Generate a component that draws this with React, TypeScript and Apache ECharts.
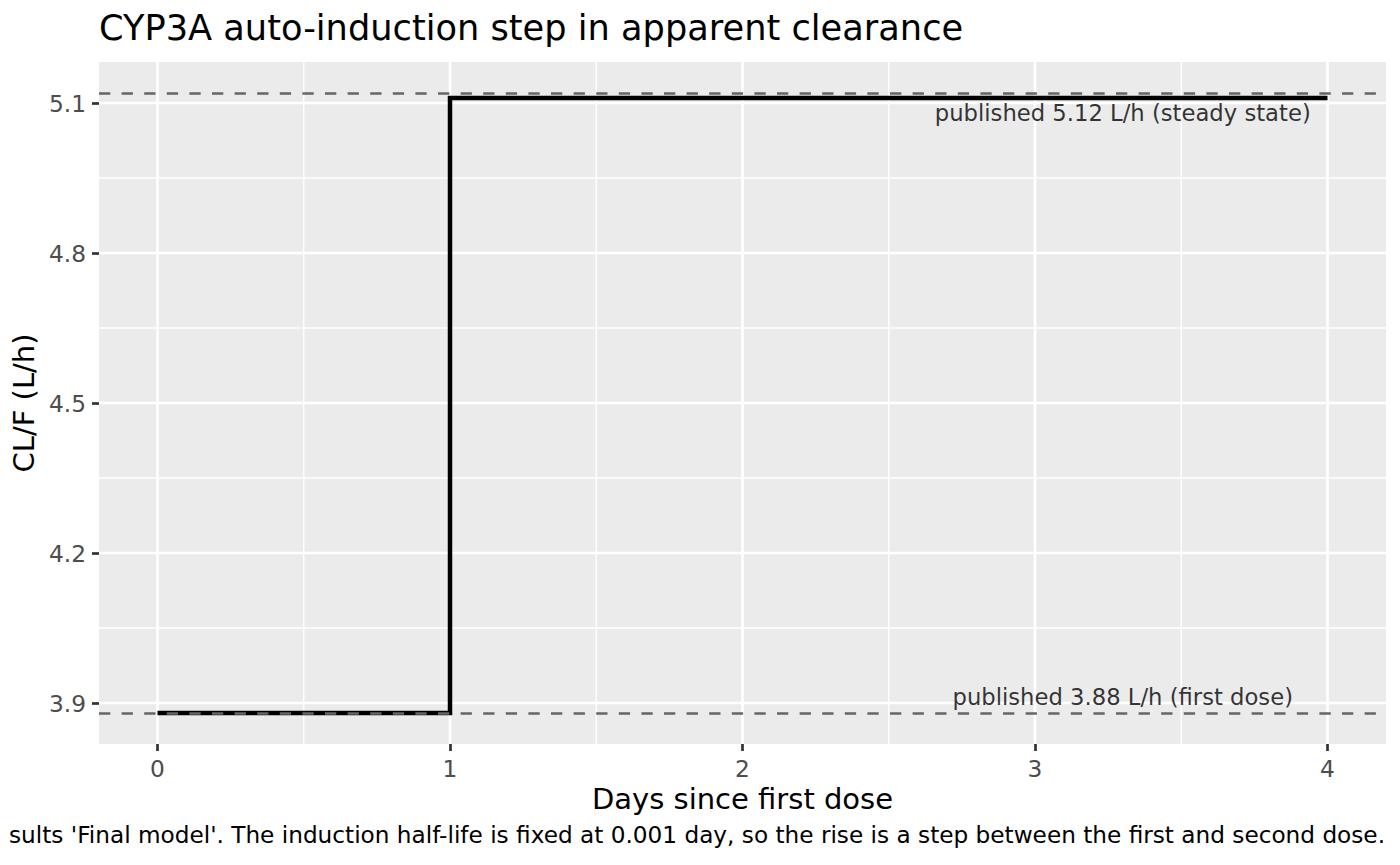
import React, { useEffect, useRef } from "react";
import * as echarts from "echarts";

const FONT = "DejaVu Sans";

const titleText = "CYP3A auto-induction step in apparent clearance";
const captionText =
  "sults 'Final model'. The induction half-life is fixed at 0.001 day, so the rise is a step between the first and second dose.";
const xTitle = "Days since first dose";
const yTitle = "CL/F (L/h)";

// step data
const days = [0, 1, 2, 3, 4];
const clearance = [3.88, 5.11, 5.11, 5.11, 5.11];

// published reference values
const refValues = [5.12, 3.88];
const refLabels = ["published 5.12 L/h (steady state)", "published 3.88 L/h (first dose)"];
const refLabelX = [3.3, 3.3];

// axes
const xRange = [-0.2, 4.2];
const yRange = [3.818, 5.182];
const xMajor = [0, 1, 2, 3, 4];
const xMinor = [0.5, 1.5, 2.5, 3.5];
const yMajor = [3.9, 4.2, 4.5, 4.8, 5.1];
const yMinor = [4.05, 4.35, 4.65, 4.95];

export default function App() {
  const ref = useRef<HTMLDivElement>(null);

  useEffect(() => {
    if (!ref.current) return;
    const chart = echarts.init(ref.current, null, { renderer: "svg" });

    // grid lines: [x, y, orientation(0 vertical,1 horizontal), major(1)/minor(0)]
    const gridData: number[][] = [
      ...xMinor.map((v) => [v, yRange[0], 0, 0]),
      ...yMinor.map((v) => [xRange[0], v, 1, 0]),
      ...xMajor.map((v) => [v, yRange[0], 0, 1]),
      ...yMajor.map((v) => [xRange[0], v, 1, 1]),
    ];

    const option: any = {
      animation: false,
      title: [
        {
          text: titleText,
          left: 99,
          top: 10,
          padding: 0,
          textStyle: { fontFamily: FONT, fontSize: 35.2, fontWeight: "normal", color: "#000" },
        },
        {
          text: captionText,
          right: 15,
          top: 823,
          padding: 0,
          textStyle: { fontFamily: FONT, fontSize: 23.2, fontWeight: "normal", color: "#000" },
        },
      ],
      grid: {
        left: 99,
        right: 14,
        top: 62,
        bottom: 121,
        show: true,
        backgroundColor: "#EBEBEB",
        borderWidth: 0,
        containLabel: false,
        outerBoundsMode: "none",
      },
      xAxis: {
        type: "value",
        min: xRange[0],
        max: xRange[1],
        splitLine: { show: false },
        axisLine: { show: false, onZero: false },
        axisTick: {
          show: true,
          customValues: xMajor,
          length: 7,
          lineStyle: { color: "#333333", width: 2.7 },
        },
        axisLabel: {
          customValues: xMajor,
          margin: 13,
          fontFamily: FONT,
          fontSize: 23.3,
          color: "#4D4D4D",
          formatter: (v: number) => String(v),
        },
        name: xTitle,
        nameLocation: "middle",
        nameGap: 37,
        nameTextStyle: { fontFamily: FONT, fontSize: 29, color: "#000" },
      },
      yAxis: {
        type: "value",
        min: yRange[0],
        max: yRange[1],
        splitLine: { show: false },
        axisLine: { show: false, onZero: false },
        axisTick: {
          show: true,
          customValues: yMajor,
          length: 7,
          lineStyle: { color: "#333333", width: 2.7 },
        },
        axisLabel: {
          customValues: yMajor,
          margin: 13,
          fontFamily: FONT,
          fontSize: 23.3,
          color: "#4D4D4D",
          formatter: (v: number) => v.toFixed(1),
        },
        name: yTitle,
        nameLocation: "middle",
        nameGap: 57,
        nameRotate: 90,
        nameTextStyle: { fontFamily: FONT, fontSize: 29, color: "#000" },
      },
      series: [
        {
          type: "custom",
          silent: true,
          z: 1,
          clip: false,
          data: gridData,
          renderItem: (params: any, api: any) => {
            const cs = params.coordSys;
            const orient = api.value(2);
            const major = api.value(3);
            const lw = major ? 2.7 : 1.4;
            if (orient === 0) {
              const p = api.coord([api.value(0), yRange[0]]);
              return {
                type: "line",
                shape: { x1: p[0], y1: cs.y, x2: p[0], y2: cs.y + cs.height },
                style: { stroke: "#FFFFFF", lineWidth: lw },
              };
            }
            const p = api.coord([xRange[0], api.value(1)]);
            return {
              type: "line",
              shape: { x1: cs.x, y1: p[1], x2: cs.x + cs.width, y2: p[1] },
              style: { stroke: "#FFFFFF", lineWidth: lw },
            };
          },
        },
        {
          type: "line",
          step: "end",
          z: 3,
          symbol: "none",
          silent: true,
          data: days.map((d, i) => [d, clearance[i]]),
          lineStyle: { color: "#000000", width: 4.5, cap: "butt", join: "miter" },
          emphasis: { disabled: true },
          markLine: {
            silent: true,
            z: 5,
            symbol: ["none", "none"],
            label: { show: false },
            emphasis: { disabled: true },
            lineStyle: { color: "#666666", width: 2.7, type: [11.3, 11.3] },
            data: refValues.map((v) => ({ yAxis: v })),
          },
        },
        {
          type: "scatter",
          z: 6,
          silent: true,
          symbolSize: 0.1,
          itemStyle: { color: "rgba(0,0,0,0)" },
          data: refValues.map((v, i) => ({
            value: [refLabelX[i], v],
            label: {
              show: true,
              position: "inside",
              formatter: refLabels[i],
              offset: i === 0 ? [0, 20] : [0, -16],
              fontFamily: FONT,
              fontSize: 22.7,
              color: "#000000",
              textBorderWidth: 0,
            },
          })),
        },
      ],
    };

    chart.setOption(option);
    return () => chart.dispose();
  }, []);

  return (
    <div
      ref={ref}
      style={{ position: "absolute", left: 0, top: 0, width: 1400, height: 865 }}
    />
  );
}
